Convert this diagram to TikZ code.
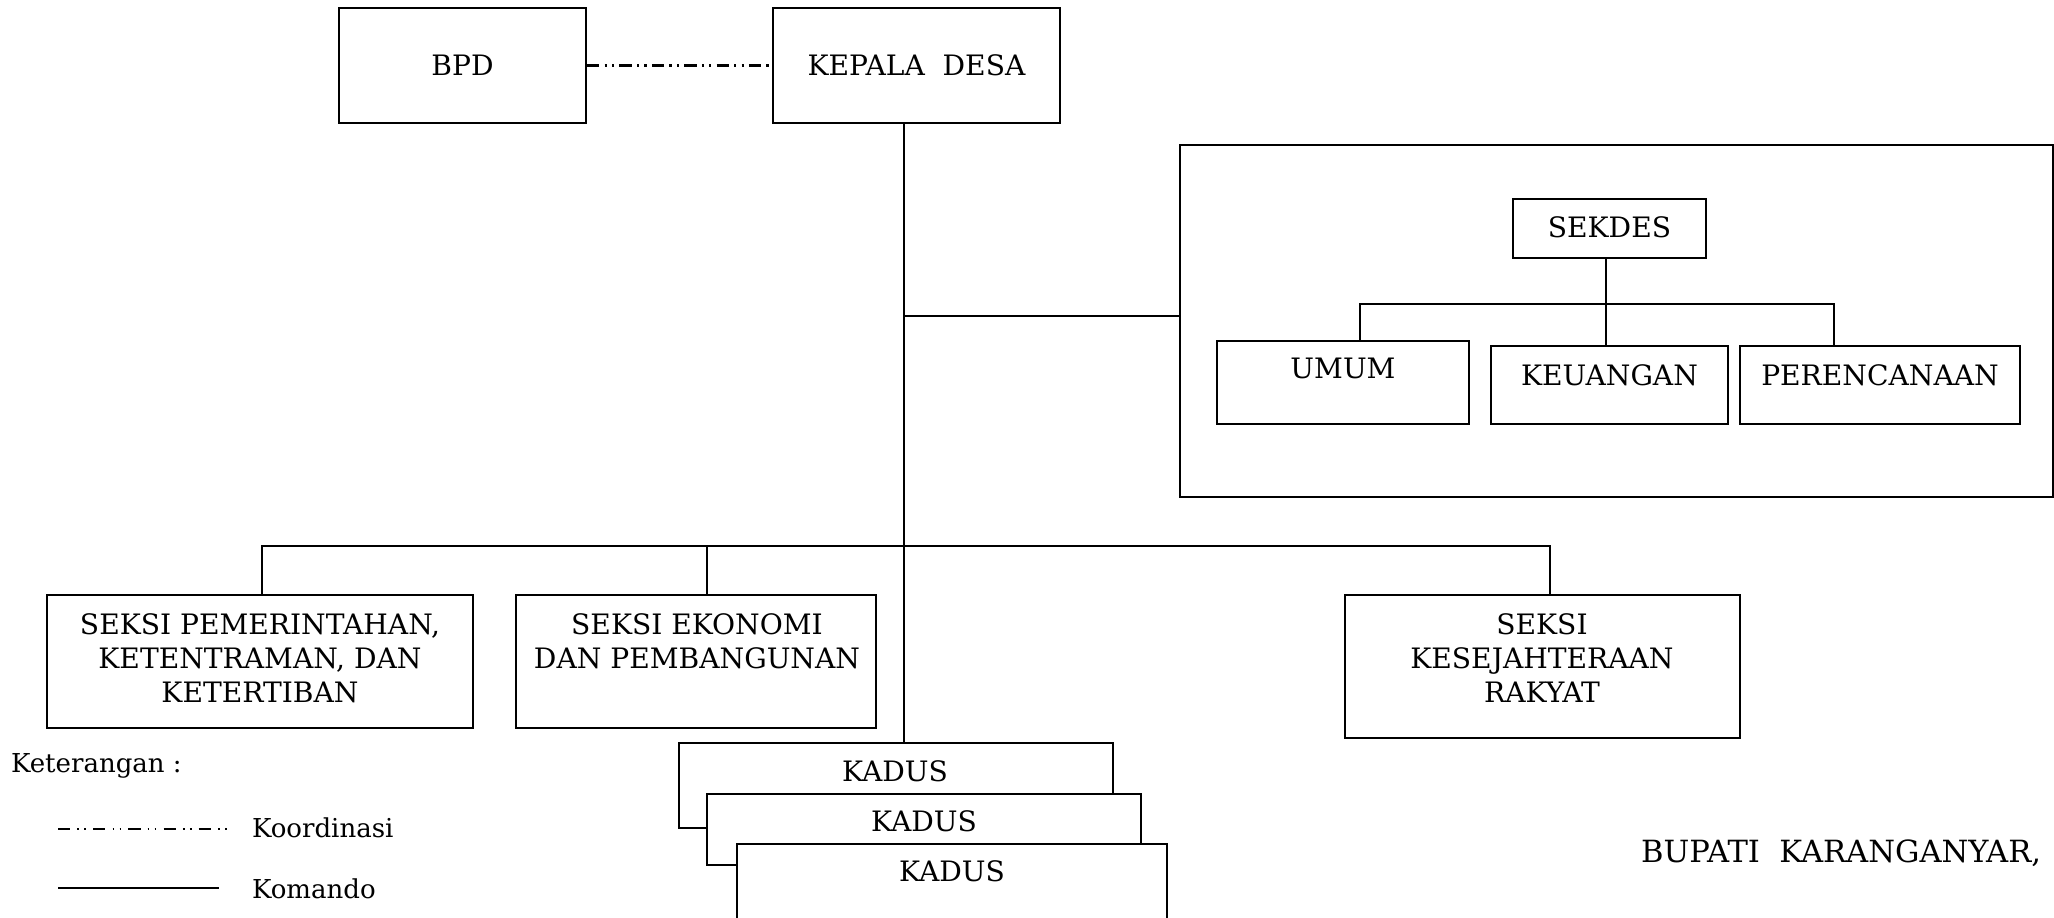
\documentclass[tikz,border=0pt]{standalone}
\usepackage{fontspec}
\setmainfont{DejaVu Serif}
\begin{document}
\begin{tikzpicture}[x=0.01cm,y=-0.01cm, line width=0.6pt,
  box/.style={draw, rectangle, inner sep=0pt, fill=white},
  txt/.style={inner sep=0pt, font=\fontsize{8}{9.7}\selectfont, align=center},
  small/.style={inner sep=0pt, font=\fontsize{7.4}{9}\selectfont, align=left},
  koord/.style={dash pattern=on 3.5pt off 1.5pt on 0.6pt off 1.5pt on 0.6pt off 1.5pt},
  koordleg/.style={dash pattern=on 3.5pt off 2pt on 0.5pt off 1.5pt on 0.5pt off 2pt}]
\useasboundingbox (0,0) rectangle (2054,918);
\clip (0,0) rectangle (2054,918);
\coordinate (sp) at (904,0);
% top
\node[box, minimum width=2.47cm, minimum height=1.15cm] (bpd) at (462.5,65.5) {};
\node[box, minimum width=2.87cm, minimum height=1.15cm] (kades) at (916.5,65.5) {};
\node[txt] (bpdt) at (462.5,65) {BPD};
\node[txt] (kadest) at (916.5,65) {KEPALA\ \ DESA};
\draw[koord] (bpd.east) -- (kades.west);
% sekretariat panel
\node[draw, rectangle, inner sep=0pt, minimum width=8.73cm, minimum height=3.52cm] (panel) at (1616.5,321) {};
\node[box, minimum width=1.93cm, minimum height=0.59cm] (sekdes) at (1609.5,228.5) {};
\node[box, minimum width=2.52cm, minimum height=0.83cm] (umum) at (1343,382.5) {};
\node[box, minimum width=2.37cm, minimum height=0.78cm] (keu) at (1609.5,385) {};
\node[box, minimum width=2.80cm, minimum height=0.78cm] (pere) at (1880,385) {};
\node[txt] (sekdest) at (1609.5,227) {SEKDES};
\node[txt] (umumt) at (1343,368) {UMUM};
\node[txt] (keut) at (1609.5,375) {KEUANGAN};
\node[txt] (peret) at (1880,375) {PERENCANAAN};
\coordinate (sbar) at (0,304);
\coordinate (sv) at (1606,0);
\coordinate (ud) at (1360,0);
\coordinate (pd) at (1834,0);
\draw (sekdes.south -| sv) -- (keu.north -| sv);
\draw (umum.north -| ud) -- (ud |- sbar) -- (pd |- sbar) -- (pere.north -| pd);
% seksi
\node[box, minimum width=4.26cm, minimum height=1.33cm] (pem) at (260,661.5) {};
\node[box, minimum width=3.60cm, minimum height=1.33cm] (eko) at (696,661.5) {};
\node[box, minimum width=3.95cm, minimum height=1.43cm] (kes) at (1542.5,666.5) {};
\node[txt] (pemt) at (260,658) {SEKSI PEMERINTAHAN,\\KETENTRAMAN, DAN\\KETERTIBAN};
\node[txt] (ekot) at (697,641.5) {SEKSI EKONOMI\\DAN PEMBANGUNAN};
\node[txt] (kest) at (1542,658) {SEKSI\\KESEJAHTERAAN\\RAKYAT};
\coordinate (mbar) at (0,546);
\coordinate (pemdrop) at (262,0);
\coordinate (ekodrop) at (707,0);
\coordinate (kesdrop) at (1550,0);
\draw (pem.north -| pemdrop) -- (pemdrop |- mbar) -- (kesdrop |- mbar) -- (kes.north -| kesdrop);
\draw (ekodrop |- mbar) -- (eko.north -| ekodrop);
\coordinate (pbar) at (0,316);
\draw (sp |- pbar) -- (panel.west |- pbar);
% kadus
\node[box, minimum width=4.34cm, minimum height=0.85cm] (kadus1) at (896,785.5) {};
\draw (kades.south -| sp) -- (kadus1.north -| sp);
\node[box, minimum width=4.34cm, minimum height=0.71cm] (kadus2) at (924,829.5) {};
\node[box, minimum width=4.30cm, minimum height=0.96cm] (kadus3) at (952,892) {};
\node[txt] (kadus1t) at (895,771) {KADUS};
\node[txt] (kadus2t) at (924,821) {KADUS};
\node[txt] (kadus3t) at (952,871) {KADUS};
% legend
\node[small, anchor=west] (ket) at (10,766) {Keterangan :};
\coordinate (l1a) at (58,829);
\coordinate (l1b) at (227,829);
\coordinate (l2a) at (58,888);
\coordinate (l2b) at (219,888);
\draw[koordleg] (l1a) -- (l1b);
\draw (l2a) -- (l2b);
\node[small, anchor=west] (koordt) at (251,828) {Koordinasi};
\node[small, anchor=west] (komt) at (251,889) {Komando};
\node[inner sep=0pt, font=\fontsize{8.7}{10}\selectfont, anchor=west] (bupati) at (1640,853) {BUPATI\ \ KARANGANYAR,};
\end{tikzpicture}
\end{document}
